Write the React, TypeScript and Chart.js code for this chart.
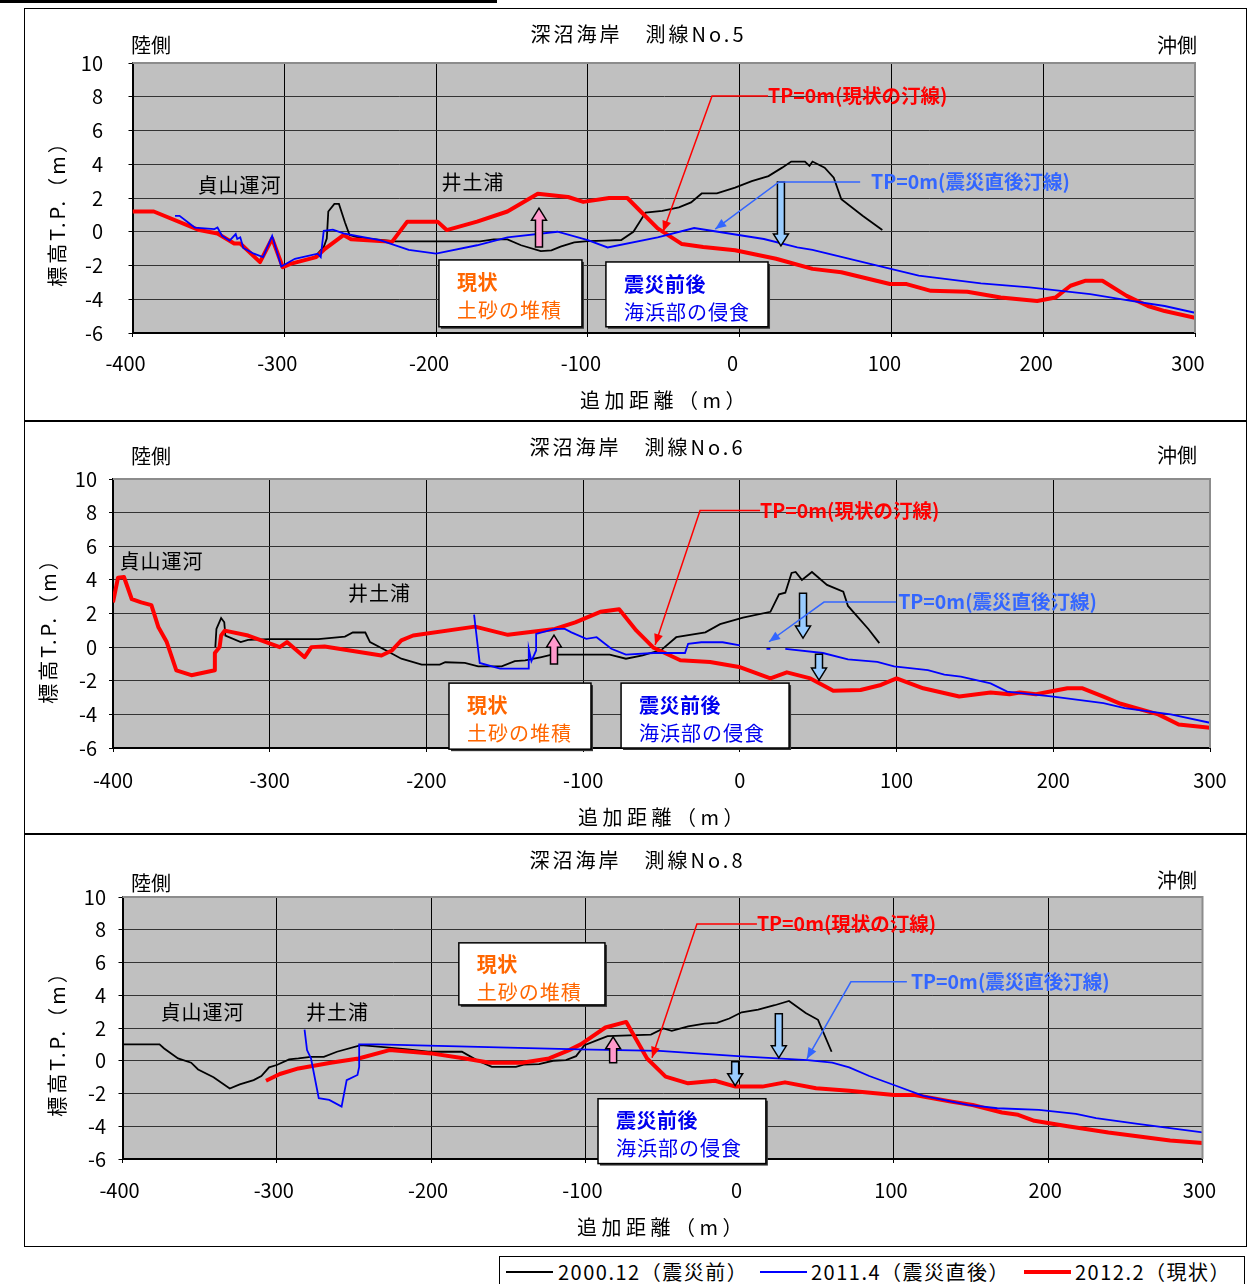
import React, { useEffect, useRef } from "react";
import { Chart, registerables } from "chart.js";
Chart.register(...registerables);

const FONT = '"Noto Sans CJK JP", "Noto Sans", sans-serif';

// ---------- axis ticks ----------
const xTickValues = [-400, -300, -200, -100, 0, 100, 200, 300];
const yTickValues = [-6, -4, -2, 0, 2, 4, 6, 8, 10];

// ---------- series names ----------
const seriesNames = ["2000.12（震災前）", "2011.4（震災直後）", "2012.2（現状）"];
const panelTitles = ["深沼海岸　測線No.5", "深沼海岸　測線No.6", "深沼海岸　測線No.8"];

// ---------- 測線No.5 ----------
const no5_2000: [number, number | null][] = [
  [-300, -2.0], [-280, -1.5], [-274, -0.9], [-272, -0.4], [-271, 1.2], [-267, 1.65], [-264, 1.65],
  [-260, 0.55], [-257, -0.2], [-251, -0.35], [-227, -0.57], [-171, -0.57], [-162, -0.45], [-153, -0.45],
  [-144, -0.8], [-131, -1.15], [-124, -1.1], [-118, -0.88], [-109, -0.63], [-100, -0.55], [-89, -0.53],
  [-78, -0.49], [-70, 0.0], [-62, 1.14], [-51, 1.24], [-40, 1.44], [-32, 1.74], [-25, 2.27], [-15, 2.27],
  [-3, 2.62], [8, 3.0], [19, 3.3], [28, 3.8], [34, 4.16], [43, 4.16], [46, 3.9], [48, 4.16], [56, 3.8],
  [62, 3.2], [67, 1.93], [81, 0.95], [94, 0.1],
];
const no5_2011: [number, number | null][] = [
  [-372, 0.94], [-369, 0.94], [-359, 0.25], [-346, 0.16], [-344, 0.25], [-341, -0.24], [-336, -0.53],
  [-332, -0.14], [-331, -0.43], [-329, -0.33], [-327, -0.96], [-320, -1.3], [-314, -1.5], [-308, -0.24],
  [-302, -2.06], [-293, -1.6], [-278, -1.3], [-276, -1.5], [-274, 0.06], [-268, 0.12], [-261, -0.1],
  [-247, -0.33], [-237, -0.5], [-218, -1.08], [-200, -1.3], [-173, -0.8], [-153, -0.33], [-120, 0.0],
  [-100, -0.5], [-87, -0.93], [-54, -0.33], [-30, 0.22], [16, -0.43], [38, -0.93], [48, -1.08],
  [86, -1.9], [118, -2.6], [159, -3.06], [191, -3.3], [231, -3.7], [258, -4.1], [280, -4.4], [300, -4.8],
];
const no5_2012: [number, number | null][] = [
  [-400, 1.2], [-386, 1.2], [-356, 0.1], [-344, -0.1], [-333, -0.7], [-329, -0.7], [-316, -1.8],
  [-308, -0.4], [-301, -2.1], [-296, -1.9], [-279, -1.5], [-273, -1.0], [-261, -0.2], [-256, -0.45],
  [-229, -0.6], [-219, 0.6], [-199, 0.6], [-193, 0.1], [-173, 0.6], [-153, 1.2], [-133, 2.25],
  [-113, 2.06], [-103, 1.77], [-86, 2.0], [-74, 2.0], [-64.5, 1.14], [-54, 0.2], [-38, -0.73],
  [-24, -0.9], [-3, -1.1], [24, -1.6], [48, -2.2], [67, -2.4], [99, -3.1], [110, -3.1], [126, -3.5],
  [150, -3.55], [172, -3.9], [196, -4.1], [208, -3.9], [218, -3.2], [228, -2.9], [239, -2.9],
  [255, -3.8], [269, -4.4], [280, -4.7], [300, -5.1],
];

// ---------- 測線No.6 ----------
const no6_2000: [number, number | null][] = [
  [-334.7, 0], [-334, 1.08], [-331, 1.73], [-329, 1.48], [-328.3, 0.69], [-318.5, 0.3], [-313.8, 0.43],
  [-300, 0.47], [-269, 0.47], [-252, 0.63], [-247, 0.87], [-239, 0.87], [-236, 0.3], [-226.6, -0.16],
  [-216, -0.69], [-203, -1.04], [-191.5, -1.04], [-188, -0.9], [-175.5, -0.94], [-167, -1.14],
  [-152, -1.14], [-143.6, -0.83], [-137, -0.79], [-126.6, -0.59], [-120, -0.45], [-83, -0.45],
  [-72.7, -0.69], [-62, -0.49], [-50, -0.16], [-40.6, 0.59], [-22, 0.88], [-12.6, 1.37], [2, 1.76],
  [19.5, 2.1], [25, 3.14], [29, 3.24], [33, 4.41], [35.6, 4.47], [39.6, 4.0], [46, 4.47], [55.6, 3.7],
  [66, 3.3], [69, 2.45], [82, 1.08], [89, 0.24],
];
const no6_2011: [number, number | null][] = [
  [-169.6, 1.93], [-166, -0.94], [-153, -1.28], [-135, -1.28], [-134.7, -0.1], [-133, -0.83],
  [-130, -0.2], [-130, 0.79], [-118, 1.08], [-111.7, 1.08], [-107.5, 0.88], [-98, 0.49], [-91.4, 0.59],
  [-82, -0.1], [-72.7, -0.45], [-55, -0.35], [-35, -0.35], [-33, 0.2], [-24.6, 0.29], [-11, 0.29],
  [0, 0.1], [8, null], [17, -0.1], [19.5, -0.1], [24, null], [29, -0.1], [53, -0.35], [69, -0.73],
  [87.7, -0.88], [98.4, -1.14], [120, -1.37], [130.5, -1.63], [141, -1.76], [160, -2.16],
  [170.6, -2.65], [200, -2.94], [232, -3.33], [245.5, -3.63], [275, -4.0], [300, -4.5],
];
const no6_2012: [number, number | null][] = [
  [-400, 2.66], [-396.8, 4.13], [-393, 4.17], [-388, 2.85], [-382, 2.66], [-375.5, 2.5], [-371, 1.18],
  [-365.7, 0.3], [-359.6, -1.38], [-350, -1.67], [-335, -1.38], [-335, -0.35], [-332, 0], [-331, 0.69],
  [-328.7, 0.98], [-313.8, 0.69], [-293.6, 0], [-289, 0.3], [-277.7, -0.6], [-273.4, 0], [-265, 0.04],
  [-228.7, -0.5], [-222, -0.2], [-216, 0.4], [-208.5, 0.69], [-169, 1.22], [-148, 0.73], [-118, 1.08],
  [-105, 1.47], [-89, 2.1], [-77, 2.25], [-66, 0.98], [-55, -0.04], [-38, -0.78], [-19, -0.88],
  [-0.5, -1.18], [19.5, -1.86], [30, -1.5], [45, -1.86], [59.6, -2.6], [77, -2.55], [90, -2.25],
  [100, -1.86], [117, -2.45], [140, -2.94], [160, -2.7], [172, -2.8], [178.6, -2.7], [189, -2.8],
  [209, -2.45], [218.7, -2.45], [232, -2.94], [243, -3.37], [267, -4.0], [280, -4.6], [300, -4.8],
];

// ---------- 測線No.8 ----------
const no8_2000: [number, number | null][] = [
  [-400, 1.0], [-376, 1.0], [-373, 0.75], [-364, 0.14], [-355.5, -0.12], [-351, -0.53], [-341, -1.01],
  [-330.5, -1.7], [-324, -1.44], [-315, -1.18], [-310, -0.93], [-305, -0.4], [-300, -0.26], [-292, 0.08],
  [-286, 0.14], [-278, 0.24], [-269.5, 0.24], [-261, 0.55], [-245.5, 0.95], [-232.5, 0.85], [-215, 0.69],
  [-202, 0.55], [-180, 0.55], [-170.4, 0.04], [-160.6, -0.37], [-145, -0.37], [-140, -0.24], [-130, -0.2],
  [-121, 0], [-112.6, 0.04], [-106, 0.28], [-100.6, 0.95], [-91, 1.3], [-85.6, 1.5], [-57.5, 1.6],
  [-49.5, 1.97], [-44, 1.83], [-33.4, 2.1], [-22.7, 2.27], [-14.7, 2.31], [-6.7, 2.58], [1.3, 2.96],
  [12, 3.12], [22.7, 3.39], [32, 3.65], [42.8, 2.92], [50.8, 2.5], [59.6, 0.55],
];
const no8_2011: [number, number | null][] = [
  [-282, 1.9], [-280.4, 0.65], [-277.8, 0.14], [-272.8, -2.29], [-266, -2.39], [-258, -2.8],
  [-254.7, -1.18], [-247.7, -0.87], [-246.6, -0.37], [-246.6, 1.0], [-234.6, 1.0], [-104, 0.69],
  [-52, 0.6], [-1.3, 0.28], [44, 0.04], [60, -0.12], [71, -0.4], [84, -0.93], [100, -1.48],
  [119, -2.15], [148, -2.7], [167, -2.9], [194, -3.0], [218, -3.25], [231, -3.5], [258, -3.85],
  [300, -4.38],
];
const no8_2012: [number, number | null][] = [
  [-307, -1.22], [-298, -0.81], [-286, -0.47], [-265, -0.12], [-247, 0.14], [-227, 0.65], [-200, 0.45],
  [-178, 0.14], [-162, -0.12], [-141, -0.12], [-123.5, 0.14], [-110.5, 0.65], [-103, 1.0], [-87, 2.03],
  [-73.5, 2.37], [-60, 0.14], [-48, -0.97], [-33.4, -1.38], [-16, -1.22], [-2.7, -1.58], [14.7, -1.58],
  [29.4, -1.32], [49.5, -1.68], [71, -1.83], [100, -2.09], [113.6, -2.09], [137.7, -2.5], [151, -2.7],
  [170, -3.16], [180.5, -3.3], [191, -3.67], [212.6, -4.0], [239, -4.38], [279, -4.87], [300, -5.03],
];

// ---------- panel layout / annotation configuration ----------
type Box = { x0: number; x1: number; y0: number; y1: number; head: string; body: string; color: string };
type PanelCfg = {
  id: number;
  title: string;
  frame: { left: number; top: number; width: number; height: number };
  area: { left: number; right: number; top: number; bottom: number };
  yPad: number; xPad: number; xLabelOffset: number;
  titleXY: [number, number]; rikuXY: [number, number]; okiXY: [number, number];
  xTitleXY: [number, number]; yTitleXY: [number, number];
  series: [number, number | null][][];
  places: { text: string; x: number; y: number }[];
  redNote: { textX: number; elbowX: number; y: number; tipX: number; tipY: number };
  blueNote: { textX: number; lineEndX: number; elbowX: number; y: number; tipX: number; tipY: number };
  blocks: { x: number; from: number; to: number; color: string }[];
  boxes: Box[];
};

const ORANGE = "#FF6600";
const BOXBLUE = "#0000EE";
const LIGHTBLUE = "#99CCFF";
const PINK = "#FF99CC";

const panels: PanelCfg[] = [
  {
    id: 5, title: panelTitles[0],
    frame: { left: 24, top: 8, width: 1223, height: 413 },
    area: { left: 108.5, right: 1171, top: 55, bottom: 325 },
    yPad: 25.5, xPad: 14, xLabelOffset: -7,
    titleXY: [613, 26], rikuXY: [107, 37], okiXY: [1173, 37],
    xTitleXY: [556, 392], yTitleXY: [33, 202],
    series: [no5_2000, no5_2011, no5_2012],
    places: [{ text: "貞山運河", x: -329.8, y: 2.77 }, { text: "井土浦", x: -176, y: 2.9 }],
    redNote: { textX: 18.7, elbowX: -18.2, y: 8.05, tipX: -50.5, tipY: 0 },
    blueNote: { textX: 86.6, lineEndX: 79.4, elbowX: 25.9, y: 2.95, tipX: -16.1, tipY: 0.16 },
    blocks: [{ x: 27.2, from: 2.95, to: -0.84, color: LIGHTBLUE }, { x: -132.2, from: -0.9, to: 1.4, color: PINK }],
    boxes: [
      { x0: -198.1, x1: -103.9, y0: -1.67, y1: -5.63, head: "現状", body: "土砂の堆積", color: ORANGE },
      { x0: -88.1, x1: 18.7, y0: -1.79, y1: -5.63, head: "震災前後", body: "海浜部の侵食", color: BOXBLUE },
    ],
  },
  {
    id: 6, title: panelTitles[1],
    frame: { left: 24, top: 421, width: 1223, height: 413 },
    area: { left: 89, right: 1186, top: 58, bottom: 327 },
    yPad: 12, xPad: 16, xLabelOffset: 0,
    titleXY: [612, 26], rikuXY: [107, 35], okiXY: [1173, 34],
    xTitleXY: [554, 396], yTitleXY: [24, 206],
    series: [no6_2000, no6_2011, no6_2012],
    places: [{ text: "貞山運河", x: -369.4, y: 5.12 }, { text: "井土浦", x: -230.2, y: 3.2 }],
    redNote: { textX: 12.9, elbowX: -25.4, y: 8.12, tipX: -54.1, tipY: 0.12 },
    blueNote: { textX: 101, lineEndX: 99.7, elbowX: 53.7, y: 2.68, tipX: 18.6, tipY: 0.32 },
    blocks: [
      { x: 40.3, from: 3.2, to: 0.54, color: LIGHTBLUE },
      { x: 50.5, from: -0.42, to: -1.96, color: LIGHTBLUE },
      { x: -118.6, from: -1.0, to: 0.71, color: PINK },
    ],
    boxes: [
      { x0: -185.6, x1: -95, y0: -2.14, y1: -6.07, head: "現状", body: "土砂の堆積", color: ORANGE },
      { x0: -75.8, x1: 31.4, y0: -2.14, y1: -6.0, head: "震災前後", body: "海浜部の侵食", color: BOXBLUE },
    ],
  },
  {
    id: 8, title: panelTitles[2],
    frame: { left: 24, top: 834, width: 1223, height: 413 },
    area: { left: 98.5, right: 1178.5, top: 63, bottom: 325 },
    yPad: 12.5, xPad: 15, xLabelOffset: -3,
    titleXY: [612, 26], rikuXY: [107, 49], okiXY: [1173, 46],
    xTitleXY: [553, 393], yTitleXY: [33, 206],
    series: [no8_2000, no8_2011, no8_2012],
    places: [{ text: "貞山運河", x: -348.5, y: 2.93 }, { text: "井土浦", x: -261, y: 2.93 }],
    redNote: { textX: 11.2, elbowX: -27.7, y: 8.35, tipX: -56.8, tipY: 0.18 },
    blueNote: { textX: 111, lineEndX: 108.4, elbowX: 72.1, y: 4.82, tipX: 43.6, tipY: 0.12 },
    blocks: [
      { x: 25.4, from: 2.87, to: 0.18, color: LIGHTBLUE },
      { x: -2.9, from: -0.06, to: -1.52, color: LIGHTBLUE },
      { x: -82, from: -0.12, to: 1.46, color: PINK },
    ],
    boxes: [
      { x0: -182, x1: -87.3, y0: 7.2, y1: 3.41, head: "現状", body: "土砂の堆積", color: ORANGE },
      { x0: -91.8, x1: 17, y0: -2.32, y1: -6.28, head: "震災前後", body: "海浜部の侵食", color: BOXBLUE },
    ],
  },
];

// ---------- drawing helpers ----------
function drawText(
  ctx: CanvasRenderingContext2D, text: string, x: number, y: number,
  font: string, color: string, align: "left" | "center" | "right" = "left", spacing = 0
) {
  ctx.save();
  ctx.font = font;
  ctx.fillStyle = color;
  ctx.textBaseline = "middle";
  ctx.textAlign = "left";
  (ctx as any).letterSpacing = spacing + "px";
  const w = ctx.measureText(text).width - spacing;
  const left = align === "left" ? x : align === "center" ? x - w / 2 : x - w;
  ctx.fillText(text, left, y);
  ctx.restore();
}

function blockArrow(ctx: CanvasRenderingContext2D, x: number, yTail: number, yTip: number, fill: string) {
  const dir = Math.sign(yTip - yTail);
  const sw = 3.5, hw = 7.5, hl = 12;
  const yb = yTip - dir * hl;
  ctx.save();
  ctx.beginPath();
  ctx.moveTo(x - sw, yTail);
  ctx.lineTo(x + sw, yTail);
  ctx.lineTo(x + sw, yb);
  ctx.lineTo(x + hw, yb);
  ctx.lineTo(x, yTip);
  ctx.lineTo(x - hw, yb);
  ctx.lineTo(x - sw, yb);
  ctx.closePath();
  ctx.fillStyle = fill;
  ctx.fill();
  ctx.strokeStyle = "#000";
  ctx.lineWidth = 1.5;
  ctx.lineJoin = "miter";
  ctx.stroke();
  ctx.restore();
}

function pointer(ctx: CanvasRenderingContext2D, pts: [number, number][], color: string) {
  ctx.save();
  ctx.strokeStyle = color;
  ctx.fillStyle = color;
  ctx.lineWidth = 1.5;
  ctx.beginPath();
  pts.forEach((p, i) => (i === 0 ? ctx.moveTo(p[0], p[1]) : ctx.lineTo(p[0], p[1])));
  ctx.stroke();
  const [ax, ay] = pts[pts.length - 2];
  const [bx, by] = pts[pts.length - 1];
  const ang = Math.atan2(by - ay, bx - ax);
  const L = 11, W = 4.5;
  const ux = Math.cos(ang), uy = Math.sin(ang);
  ctx.beginPath();
  ctx.moveTo(bx, by);
  ctx.lineTo(bx - ux * L - uy * W, by - uy * L + ux * W);
  ctx.lineTo(bx - ux * L + uy * W, by - uy * L - ux * W);
  ctx.closePath();
  ctx.fill();
  ctx.restore();
}

function makePlugin(cfg: PanelCfg) {
  return {
    id: "deco" + cfg.id,
    beforeDraw(chart: any) {
      const { ctx, chartArea: a, width, height } = chart;
      ctx.save();
      ctx.fillStyle = "#ffffff";
      ctx.fillRect(0, 0, width, height);
      ctx.fillStyle = "#C0C0C0";
      ctx.fillRect(a.left, a.top, a.right - a.left, a.bottom - a.top);
      ctx.restore();
    },
    afterDraw(chart: any) {
      const { ctx, chartArea: a } = chart;
      const xs = chart.scales.x, ys = chart.scales.y;
      const X = (v: number) => xs.getPixelForValue(v);
      const Y = (v: number) => ys.getPixelForValue(v);

      ctx.save();
      ctx.strokeStyle = "#8c8c8c";
      ctx.lineWidth = 2;
      ctx.beginPath();
      ctx.moveTo(a.left, a.top);
      ctx.lineTo(a.right, a.top);
      ctx.lineTo(a.right, a.bottom);
      ctx.stroke();
      ctx.restore();

      const f20 = `20px ${FONT}`;
      cfg.places.forEach((p) => drawText(ctx, p.text, X(p.x), Y(p.y), f20, "#000", "center", 1));

      cfg.blocks.forEach((b) => blockArrow(ctx, X(b.x), Y(b.from), Y(b.to), b.color));

      const rn = cfg.redNote;
      pointer(ctx, [[X(rn.textX), Y(rn.y)], [X(rn.elbowX), Y(rn.y)], [X(rn.tipX), Y(rn.tipY)]], "#FF0000");
      drawText(ctx, "TP=0m(現状の汀線)", X(rn.textX), Y(rn.y), `bold 19.5px ${FONT}`, "#FF0000");

      const bn = cfg.blueNote;
      pointer(ctx, [[X(bn.lineEndX), Y(bn.y)], [X(bn.elbowX), Y(bn.y)], [X(bn.tipX), Y(bn.tipY)]], "#3366FF");
      drawText(ctx, "TP=0m(震災直後汀線)", X(bn.textX), Y(bn.y), `bold 19.5px ${FONT}`, "#3366FF");

      cfg.boxes.forEach((b) => {
        const x0 = X(b.x0), x1 = X(b.x1), y0 = Y(b.y0), y1 = Y(b.y1);
        ctx.save();
        ctx.fillStyle = "#333";
        ctx.fillRect(x0 + 2, y0 + 2, x1 - x0, y1 - y0);
        ctx.fillStyle = "#fff";
        ctx.fillRect(x0, y0, x1 - x0, y1 - y0);
        ctx.strokeStyle = "#000";
        ctx.lineWidth = 1.5;
        ctx.strokeRect(x0, y0, x1 - x0, y1 - y0);
        ctx.restore();
        drawText(ctx, b.head, x0 + 18, y0 + 22, `bold 20px ${FONT}`, b.color, "left", 0.5);
        drawText(ctx, b.body, x0 + 18, y0 + 50, f20, b.color, "left", 1);
      });

      drawText(ctx, cfg.title, cfg.titleXY[0], cfg.titleXY[1], f20, "#000", "center", 3);
      drawText(ctx, "陸側", cfg.rikuXY[0], cfg.rikuXY[1], f20, "#000", "left");
      drawText(ctx, "沖側", cfg.okiXY[0], cfg.okiXY[1], f20, "#000", "right");
      drawText(ctx, "追加距離（m）", cfg.xTitleXY[0], cfg.xTitleXY[1], f20, "#000", "left", 4.5);
      ctx.save();
      ctx.translate(cfg.yTitleXY[0], cfg.yTitleXY[1]);
      ctx.rotate(-Math.PI / 2);
      drawText(ctx, "標高T.P.（m）", 0, 0, f20, "#000", "center", 3);
      ctx.restore();
    },
  };
}

function toXY(arr: [number, number | null][]) {
  return arr.map(([x, y]) => ({ x, y }));
}

function Panel({ cfg }: { cfg: PanelCfg }) {
  const ref = useRef<HTMLCanvasElement | null>(null);
  useEffect(() => {
    if (!ref.current) return;
    const { width: W, height: H } = cfg.frame;
    const a = cfg.area;
    const [black, blue, red] = cfg.series;
    const chart = new Chart(ref.current, {
      type: "line",
      data: {
        datasets: [
          { label: seriesNames[1], data: toXY(blue) as any, borderColor: "#0000FF", borderWidth: 1.8, pointRadius: 0, tension: 0, spanGaps: false, order: 1 },
          { label: seriesNames[2], data: toXY(red) as any, borderColor: "#FF0000", borderWidth: 4, pointRadius: 0, tension: 0, order: 2, borderJoinStyle: "round" },
          { label: seriesNames[0], data: toXY(black) as any, borderColor: "#000000", borderWidth: 1.8, pointRadius: 0, tension: 0, order: 3 },
        ],
      },
      options: {
        responsive: false,
        animation: false,
        devicePixelRatio: 1,
        events: [],
        layout: { padding: { left: 0, top: a.top, right: W - a.right, bottom: 0 } },
        plugins: { legend: { display: false }, tooltip: { enabled: false }, title: { display: false } },
        scales: {
          x: {
            type: "linear",
            min: -400,
            max: 300,
            afterBuildTicks: (axis: any) => { axis.ticks = xTickValues.map((v) => ({ value: v })); },
            afterFit: (axis: any) => { axis.height = H - a.bottom; },
            grid: { color: "#000", lineWidth: 1, tickLength: 4, tickColor: "#000" },
            border: { color: "#000", width: 2 },
            ticks: { font: { family: FONT, size: 20 }, color: "#000", padding: cfg.xPad, maxRotation: 0, autoSkip: false, labelOffset: cfg.xLabelOffset },
          },
          y: {
            type: "linear",
            min: -6,
            max: 10,
            afterBuildTicks: (axis: any) => { axis.ticks = yTickValues.map((v) => ({ value: v })); },
            afterFit: (axis: any) => { axis.width = a.left; },
            grid: { color: "#333", lineWidth: 1, tickLength: 4, tickColor: "#000" },
            border: { color: "#000", width: 2 },
            ticks: { font: { family: FONT, size: 20 }, color: "#000", padding: cfg.yPad },
          },
        },
      },
      plugins: [makePlugin(cfg)],
    } as any);
    return () => chart.destroy();
  }, [cfg]);
  const f = cfg.frame;
  return (
    <>
      <canvas
        ref={ref}
        width={f.width}
        height={f.height}
        style={{ position: "absolute", left: f.left, top: f.top, width: f.width, height: f.height }}
      />
      <div
        style={{
          position: "absolute", left: f.left, top: f.top, width: f.width, height: f.height,
          border: "1px solid #000", boxSizing: "border-box", pointerEvents: "none",
        }}
      />
    </>
  );
}

const legendItems = [
  { name: seriesNames[0], color: "#000000", lw: 1.5, lineLeft: 6, textLeft: 58 },
  { name: seriesNames[1], color: "#0000FF", lw: 1.5, lineLeft: 260, textLeft: 311 },
  { name: seriesNames[2], color: "#FF0000", lw: 4, lineLeft: 524, textLeft: 575 },
];

export default function App() {
  return (
    <div
      style={{
        position: "absolute", left: 0, top: 0, width: 1253, height: 1284, overflow: "hidden",
        background: "#fff", fontFamily: FONT,
      }}
    >
      <div style={{ position: "absolute", left: 0, top: 0, width: 497, height: 3, background: "#000" }} />
      {panels.map((p) => (
        <Panel key={p.id} cfg={p} />
      ))}
      <div
        style={{
          position: "absolute", left: 499, top: 1256, width: 746, height: 34,
          border: "1.5px solid #000", boxSizing: "border-box", background: "#fff",
        }}
      >
        {legendItems.map((it) => (
          <React.Fragment key={it.name}>
            <div
              style={{
                position: "absolute", left: it.lineLeft, top: 15 - it.lw / 2, width: 47, height: it.lw,
                background: it.color,
              }}
            />
            <span
              style={{
                position: "absolute", left: it.textLeft, top: 0, fontSize: 20, lineHeight: "30px",
                letterSpacing: "1.5px", whiteSpace: "nowrap", color: "#000",
              }}
            >
              {it.name}
            </span>
          </React.Fragment>
        ))}
      </div>
    </div>
  );
}
